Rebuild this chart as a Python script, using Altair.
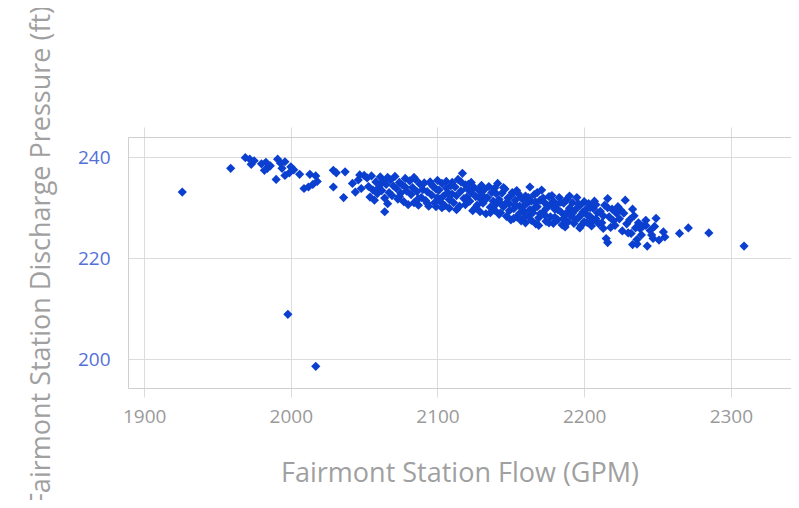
import altair as alt
import pandas as pd

# Fairmont Station Flow (GPM)
flow = [
    1926, 1959, 1969, 1972, 1973, 1975, 1980, 1983, 1984, 1982, 1986, 1990, 1991, 1993, 1996, 1996, 1994,
    2000, 1999, 2002, 2006, 2009, 2013, 2017, 2015, 2012, 2018, 2029, 2029, 2031, 2036, 2037, 2042, 2044,
    2050, 2056, 2057, 2064,
    1998, 2017,
    2309, 2285, 2271, 2265, 2255, 2254, 2251, 2249, 2243, 2242, 2242, 2238, 2233, 2233, 2232, 2228, 2222,
    2216, 2216, 2213,
    2046, 2048, 2052, 2053, 2055, 2058, 2059, 2060, 2054, 2047,
    2061, 2062, 2063, 2064, 2065, 2066, 2067, 2068, 2069, 2070, 2066, 2062,
    2071, 2072, 2073, 2074, 2075, 2076, 2077, 2078, 2079, 2080, 2074, 2078,
    2081, 2082, 2083, 2084, 2085, 2086, 2087, 2088, 2089, 2090, 2084, 2087,
    2091, 2092, 2093, 2094, 2095, 2096, 2097, 2098, 2099, 2100, 2093, 2096, 2100, 2099,
    2101, 2102, 2103, 2104, 2105, 2106, 2107, 2108, 2109, 2110, 2103, 2106, 2110, 2108,
    2111, 2112, 2113, 2114, 2115, 2116, 2117, 2118, 2119, 2120, 2113, 2116, 2119, 2120,
    2121, 2122, 2123, 2124, 2125, 2126, 2127, 2128, 2129, 2130, 2123, 2126, 2129, 2130,
    2131, 2132, 2133, 2134, 2135, 2136, 2137, 2138, 2139, 2140, 2133, 2136, 2139, 2140,
    2141, 2142, 2143, 2144, 2145, 2146, 2147, 2148, 2149, 2150, 2142, 2145, 2147, 2149, 2150, 2144,
    2151, 2152, 2153, 2154, 2155, 2156, 2157, 2158, 2159, 2160, 2152, 2154, 2156, 2158, 2160, 2153, 2157, 2159,
    2161, 2162, 2163, 2164, 2165, 2166, 2167, 2168, 2169, 2170, 2162, 2164, 2166, 2168, 2170, 2163, 2167, 2169,
    2171, 2172, 2173, 2174, 2175, 2176, 2177, 2178, 2179, 2180, 2172, 2174, 2176, 2178, 2180, 2173, 2177, 2179,
    2181, 2182, 2183, 2184, 2185, 2186, 2187, 2188, 2189, 2190, 2182, 2184, 2186, 2188, 2190, 2187,
    2191, 2192, 2193, 2194, 2195, 2196, 2197, 2198, 2199, 2200, 2192, 2194, 2196, 2198, 2200, 2197,
    2201, 2202, 2203, 2204, 2205, 2206, 2207, 2208, 2209, 2210, 2202, 2204, 2206, 2208,
    2211, 2212, 2214, 2215, 2217, 2218, 2219, 2220, 2213, 2216,
    2221, 2223, 2224, 2226, 2227, 2229, 2225, 2230,
    2231, 2234, 2235, 2236, 2237, 2239, 2240, 2236,
    2245, 2247, 2248, 2246,
]

# Fairmont Station Discharge Pressure (ft)
pressure = [
    233.1, 237.8, 239.9, 239.6, 238.6, 239.3, 238.7, 239.0, 237.8, 237.4, 238.3, 235.6, 239.6, 238.8, 239.1, 236.4, 237.8,
    238.1, 236.9, 237.5, 236.6, 233.8, 236.6, 236.3, 234.6, 234.1, 235.2, 237.4, 234.1, 236.9, 232.0, 237.1, 234.8, 233.1,
    236.4, 233.5, 231.5, 229.2,
    208.9, 198.6,
    222.4, 225.0, 226.0, 224.9, 224.2, 225.2, 223.6, 227.9, 222.4, 227.5, 226.5, 225.9, 222.7, 229.7, 224.9, 231.5, 228.9,
    231.8, 223.1, 225.9,
    235.5, 233.8, 235.9, 234.2, 236.3, 235.1, 232.8, 234.0, 232.1, 236.5,
    236.1, 233.4, 235.2, 231.9, 234.6, 236.0, 233.0, 235.5, 232.4, 234.3, 230.8, 234.9,
    236.2, 233.8, 231.7, 235.0, 232.9, 234.5, 231.2, 235.8, 233.3, 230.6, 232.2, 234.1,
    235.3, 232.6, 234.0, 231.0, 235.6, 233.2, 230.5, 234.7, 232.0, 233.6, 236.0, 231.8,
    234.9, 231.4, 233.2, 230.3, 235.1, 232.5, 234.2, 231.0, 233.7, 235.4, 230.9, 234.6, 232.0, 230.2,
    233.5, 231.2, 234.8, 232.3, 230.4, 235.2, 233.0, 231.6, 234.3, 232.7, 230.0, 233.9, 235.0, 229.9,
    231.0, 234.1, 232.4, 235.6, 230.3, 233.3, 236.8, 231.8, 234.5, 232.1, 229.6, 235.1, 230.6, 233.8,
    234.6, 231.3, 233.0, 229.4, 234.0, 232.2, 230.5, 233.5, 231.8, 234.4, 235.0, 230.0, 229.2, 232.6,
    230.9, 233.6, 228.8, 232.0, 234.2, 230.1, 233.0, 231.3, 229.5, 232.8, 231.7, 229.0, 233.9, 230.7,
    234.8, 231.6, 229.0, 232.9, 230.2, 233.7, 228.3, 231.9, 230.8, 232.4, 228.7, 234.0, 231.0, 229.4, 227.6, 230.6,
    233.0, 229.8, 231.5, 228.2, 232.8, 230.3, 227.4, 231.7, 229.2, 232.3, 227.9, 233.4, 228.9, 230.1, 227.0, 230.6, 232.0, 228.0,
    230.9, 228.4, 234.1, 231.3, 229.0, 232.6, 226.8, 230.2, 228.0, 231.5, 232.0, 227.5, 229.9, 233.0, 228.8, 229.6, 231.1, 226.5,
    233.5, 229.1, 231.0, 227.3, 230.4, 232.2, 228.2, 230.9, 226.9, 229.7, 231.9, 229.8, 227.0, 232.4, 228.1, 228.6, 230.6, 231.3,
    230.5, 227.6, 232.0, 229.2, 226.6, 230.9, 228.5, 231.6, 227.2, 229.9, 229.6, 231.1, 227.9, 229.0, 232.3, 226.2,
    228.4, 231.0, 226.9, 229.6, 232.0, 228.0, 230.4, 226.5, 229.1, 231.2, 228.9, 227.6, 230.8, 228.6, 227.2, 226.0,
    229.6, 227.1, 230.8, 228.3, 226.4, 229.9, 231.3, 227.8, 229.0, 226.8, 228.6, 230.0, 227.4, 230.6,
    229.3, 227.0, 230.5, 223.9, 228.2, 226.1, 229.7, 227.4, 228.4, 230.0,
    226.5, 230.2, 227.8, 225.4, 228.9, 226.8, 229.5, 225.0,
    227.6, 228.4, 226.0, 223.7, 227.0, 224.6, 226.3, 222.8,
    225.5, 223.9, 226.3, 224.6,
]

x_ticks = [1900, 2000, 2100, 2200, 2300]
y_ticks = [200, 220, 240]

df = pd.DataFrame({"flow": flow, "pressure": pressure})

FONT = "Open Sans"
GRID = "#dcdcdc"
BOX = "#cfcfcf"

x_scale = alt.Scale(domain=[1889, 2341], nice=False, zero=False)
y_scale = alt.Scale(domain=[194.3, 244], nice=False, zero=False)

points = alt.Chart(df).mark_point(
    shape="diamond", filled=True, color="#0a3fcf", opacity=1, size=85
).encode(
    x=alt.X("flow:Q", scale=x_scale, title="Fairmont Station Flow (GPM)",
            axis=alt.Axis(orient="bottom", values=x_ticks, format="d", grid=True, gridColor=GRID,
                          domainColor=BOX, tickColor=GRID, tickSize=9, labelPadding=10,
                          labelFont=FONT, labelFontSize=19, labelColor="#9a9a9a",
                          titleFont=FONT, titleFontSize=27, titleFontWeight="normal",
                          titleColor="#a0a0a0", titlePadding=34)),
    y=alt.Y("pressure:Q", scale=y_scale, title="Fairmont Station Discharge Pressure (ft)",
            axis=alt.Axis(orient="left", values=y_ticks, format="d", grid=True, gridColor=GRID,
                          domainColor=BOX, ticks=False, labelPadding=18, labelFont=FONT,
                          labelFontSize=19, labelColor="#5470d8", titleFont=FONT,
                          titleFontSize=27, titleFontWeight="normal", titleColor="#a0a0a0",
                          titlePadding=22, titleY=119)),
)

top_axis = alt.Chart(df).mark_point(opacity=0).encode(
    x=alt.X("flow:Q", scale=x_scale, title=None,
            axis=alt.Axis(orient="top", values=x_ticks, grid=False, labels=False,
                          domainColor=BOX, tickColor=GRID, tickSize=10)),
)

chart = alt.layer(points, top_axis).resolve_axis(x="independent").properties(
    width=663, height=251,
    autosize=alt.AutoSizeParams(type="none"),
    padding={"left": 120, "top": 129, "right": 0, "bottom": 112},
).configure_view(stroke=None)

chart.save("out.html", embed_options={"renderer": "svg", "actions": False})
